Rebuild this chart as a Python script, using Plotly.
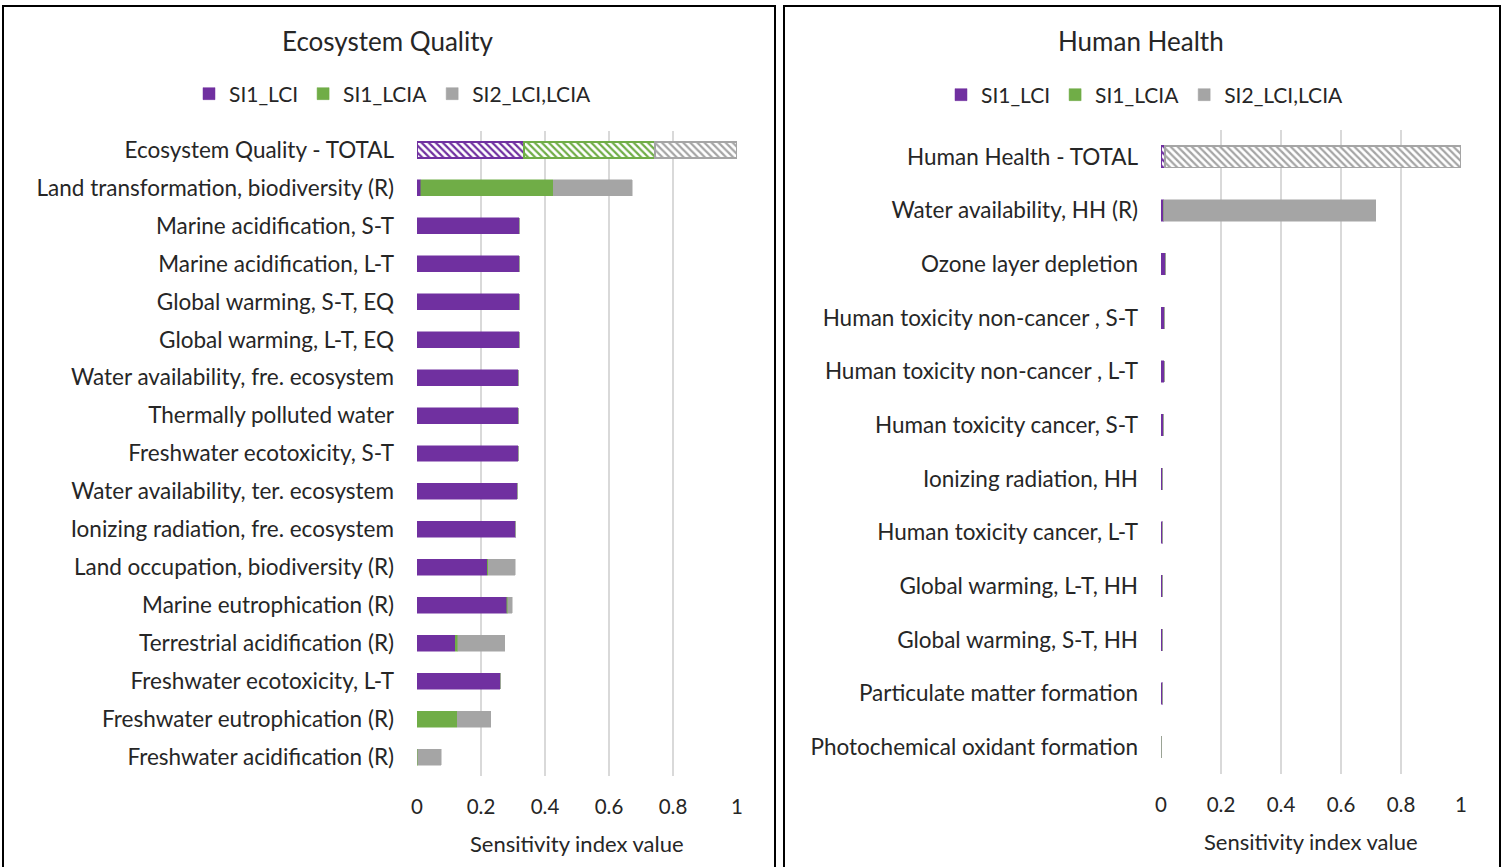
import plotly.graph_objects as go

# ---------------- data ----------------
eq_categories = [
    "Ecosystem Quality - TOTAL",
    "Land transformation, biodiversity (R)",
    "Marine acidification, S-T",
    "Marine acidification, L-T",
    "Global warming, S-T, EQ",
    "Global warming, L-T, EQ",
    "Water availability, fre. ecosystem",
    "Thermally polluted water",
    "Freshwater ecotoxicity, S-T",
    "Water availability, ter. ecosystem",
    "Ionizing radiation, fre. ecosystem",
    "Land occupation, biodiversity (R)",
    "Marine eutrophication (R)",
    "Terrestrial acidification (R)",
    "Freshwater ecotoxicity, L-T",
    "Freshwater eutrophication (R)",
    "Freshwater acidification (R)",
]
eq_si1_lci = [0.334, 0.012, 0.319, 0.319, 0.319, 0.319, 0.316, 0.316, 0.316, 0.313, 0.309,
              0.220, 0.281, 0.120, 0.260, 0.0, 0.0]
eq_si1_lcia = [0.410, 0.413, 0.0, 0.0, 0.0, 0.0, 0.0, 0.0, 0.0, 0.0, 0.0,
               0.002, 0.002, 0.007, 0.0, 0.126, 0.003]
eq_si2 = [0.256, 0.247, 0.0, 0.0, 0.0, 0.0, 0.0, 0.0, 0.0, 0.0, 0.0,
          0.085, 0.014, 0.147, 0.0, 0.105, 0.073]

hh_categories = [
    "Human Health - TOTAL",
    "Water availability, HH (R)",
    "Ozone layer depletion",
    "Human toxicity non-cancer , S-T",
    "Human toxicity non-cancer , L-T",
    "Human toxicity cancer, S-T",
    "Ionizing radiation, HH",
    "Human toxicity cancer, L-T",
    "Global warming, L-T, HH",
    "Global warming, S-T, HH",
    "Particulate matter formation",
    "Photochemical oxidant formation",
]
hh_si1_lci = [0.013, 0.009, 0.015, 0.011, 0.011, 0.008, 0.005, 0.005, 0.005, 0.005, 0.005, 0.0]
hh_si1_lcia = [0.0] * 12
hh_si2 = [0.987, 0.707, 0.0, 0.0, 0.0, 0.0, 0.0, 0.0, 0.0, 0.0, 0.0, 0.0]

series_names = ["SI1_LCI", "SI1_LCIA", "SI2_LCI,LCIA"]
series_colors = ["#7030A0", "#70AD47", "#A5A5A5"]

W, H = 1502, 867
FONT = "Lato"
TXT = "#262626"


def px_x(p):
    return p / W


def px_y(p):
    return 1 - p / H


fig = go.Figure()


def add_panel(cats, series, xa, ya, legend, bw):
    # regular rows (total row excluded)
    for name, color, vals in zip(series_names, series_colors, series):
        fig.add_trace(go.Bar(
            y=cats[1:], x=vals[1:], orientation="h", name=name,
            marker=dict(color=color, line=dict(color=color, width=0.5)),
            width=bw, xaxis=xa, yaxis=ya, legend=legend, showlegend=True,
            hoverinfo="x+y"))
    # hatched total row
    for name, color, vals in zip(series_names, series_colors, series):
        fig.add_trace(go.Bar(
            y=cats[:1], x=vals[:1], orientation="h", name=name,
            marker=dict(color="white", line=dict(color=color, width=1.5),
                        pattern=dict(shape="\\", fgcolor=color, bgcolor="white",
                                     size=5, solidity=0.45, fillmode="replace")),
            width=bw, xaxis=xa, yaxis=ya, legend=legend, showlegend=False,
            hoverinfo="x+y"))


add_panel(eq_categories, [eq_si1_lci, eq_si1_lcia, eq_si2], "x", "y", "legend", 0.42)
add_panel(hh_categories, [hh_si1_lci, hh_si1_lcia, hh_si2], "x2", "y2", "legend2", 0.40)

xcommon = dict(range=[0, 1], dtick=0.2, showgrid=True, gridcolor="#D9D9D9", gridwidth=2,
               zeroline=False, showline=False, ticks="", ticklabelstandoff=16,
               tickfont=dict(family=FONT, size=20.5, color=TXT), fixedrange=True)
ycommon = dict(autorange="reversed", showgrid=False, zeroline=False, showline=False,
               ticks="", ticklabelstandoff=22,
               tickfont=dict(family=FONT, size=22.5, color=TXT), fixedrange=True)

fig.update_layout(
    width=W, height=H, autosize=False,
    margin=dict(l=0, r=0, t=0, b=0, pad=0, autoexpand=False),
    paper_bgcolor="white", plot_bgcolor="white",
    barmode="stack", bargap=0.5,
    font=dict(family=FONT, color=TXT),
    xaxis=dict(domain=[px_x(417), px_x(737)], anchor="y", **xcommon),
    yaxis=dict(domain=[px_y(776), px_y(131)], anchor="x",
               categoryorder="array", categoryarray=eq_categories, **ycommon),
    xaxis2=dict(domain=[px_x(1161), px_x(1461)], anchor="y2", **xcommon),
    yaxis2=dict(domain=[px_y(774), px_y(130)], anchor="x2",
                categoryorder="array", categoryarray=hh_categories, **ycommon),
    legend=dict(orientation="h", x=px_x(393), y=px_y(94), xanchor="center", yanchor="middle",
                font=dict(family=FONT, size=21, color=TXT), bgcolor="rgba(0,0,0,0)",
                itemwidth=30, traceorder="normal"),
    legend2=dict(orientation="h", x=px_x(1145), y=px_y(95), xanchor="center", yanchor="middle",
                 font=dict(family=FONT, size=21, color=TXT), bgcolor="rgba(0,0,0,0)",
                 itemwidth=30, traceorder="normal"),
    showlegend=True,
)

annotations = [
    dict(text="Ecosystem Quality", x=px_x(388), y=px_y(41), size=26),
    dict(text="Human Health", x=px_x(1141), y=px_y(41), size=26),
    dict(text="Sensitivity index value", x=px_x(577), y=px_y(843), size=22),
    dict(text="Sensitivity index value", x=px_x(1311), y=px_y(841), size=22),
]
for a in annotations:
    fig.add_annotation(text=a["text"], x=a["x"], y=a["y"], xref="paper", yref="paper",
                       xanchor="center", yanchor="middle", showarrow=False,
                       font=dict(family=FONT, size=a["size"], color=TXT))

# panel borders
for x0, x1 in [(3, 775), (784, 1500)]:
    fig.add_shape(type="rect", xref="paper", yref="paper",
                  x0=px_x(x0), x1=px_x(x1), y0=px_y(880), y1=px_y(6),
                  line=dict(color="black", width=2), fillcolor="rgba(0,0,0,0)")

fig.write_html(
    "out.html",
    config={"displayModeBar": False},
    post_script="document.body.style.margin='0px';document.body.style.overflow='hidden';",
)
